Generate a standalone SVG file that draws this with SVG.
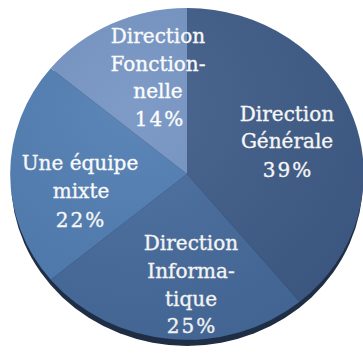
<svg xmlns="http://www.w3.org/2000/svg" width="363" height="354" viewBox="0 0 363 354">
<defs>
<radialGradient id="shade" cx="0.35" cy="0.3" r="0.8">
<stop offset="0" stop-color="#ffffff" stop-opacity="0.08"/>
<stop offset="1" stop-color="#000000" stop-opacity="0.06"/>
</radialGradient>
</defs>
<style>
.lbl{font-family:"DejaVu Serif","Liberation Serif",serif;font-size:20px;fill:#ffffff;stroke:#ffffff;stroke-width:0.35;text-anchor:middle}
.pct{letter-spacing:2px}
</style>
<rect width="363" height="354" fill="#ffffff"/>
<ellipse id="rim" cx="187" cy="180" rx="176" ry="166" fill="#1f2d45"/>
<g id="connectors"></g>
<g id="slice-generale">
<path d="M187,174 L187,8 A177,166 0 0 1 299.7,301.8 Z" fill="#3e5b87"/>
<text class="lbl" x="287" y="121">Direction</text>
<text class="lbl" x="287" y="148">Générale</text>
<text class="lbl pct" x="288" y="177">39%</text>
</g>
<g id="slice-informatique">
<path d="M187,174 L299.7,301.8 A177,166 0 0 1 50.7,279.7 Z" fill="#456a9c"/>
<text class="lbl" x="191" y="250">Direction</text>
<text class="lbl" x="191" y="278">Informa-</text>
<text class="lbl" x="191" y="306">tique</text>
<text class="lbl pct" x="192" y="333">25%</text>
</g>
<g id="slice-equipe">
<path d="M187,174 L50.7,279.7 A177,166 0 0 1 50.7,68.3 Z" fill="#4e7cb1"/>
<text class="lbl" x="80" y="170">Une équipe</text>
<text class="lbl" x="81" y="198">mixte</text>
<text class="lbl pct" x="81" y="227">22%</text>
</g>
<g id="slice-fonctionnelle">
<path d="M187,174 L50.7,68.3 A177,166 0 0 1 187,8 Z" fill="#7393c2"/>
<text class="lbl" x="158" y="43">Direction</text>
<text class="lbl" x="158" y="71">Fonction-</text>
<text class="lbl" x="158" y="98">nelle</text>
<text class="lbl pct" x="160" y="126">14%</text>
</g>
<ellipse cx="187" cy="174" rx="177" ry="166" fill="url(#shade)" pointer-events="none"/>
</svg>
